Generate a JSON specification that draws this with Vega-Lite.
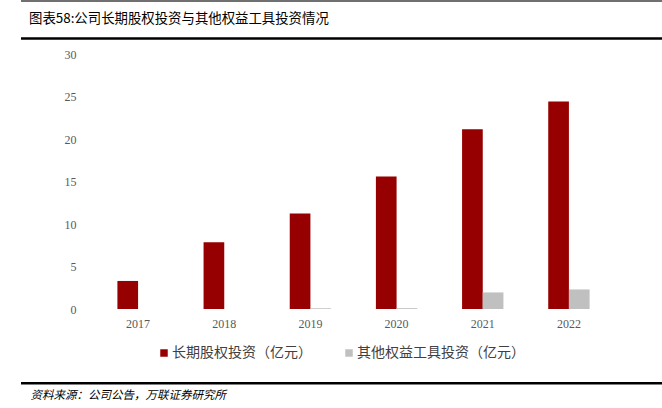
{
  "$schema": "https://vega.github.io/schema/vega-lite/v6.json",
  "width": 517,
  "height": 255,
  "autosize": {"type": "none"},
  "padding": {"left": 95, "top": 54, "right": 50, "bottom": 99},
  "background": "white",
  "config": {"view": {"stroke": null}},
  "title": {
    "text": "图表58:公司长期股权投资与其他权益工具投资情况",
    "anchor": "start",
    "frame": "group",
    "dx": -66,
    "offset": -32,
    "baseline": "middle",
    "font": "Noto Sans CJK SC",
    "fontSize": 13.4,
    "fontWeight": "normal",
    "color": "#000000"
  },
  "datasets": {
    "bars": [
      {"year": "2017", "series": "长期股权投资（亿元）", "value": 3.3},
      {"year": "2018", "series": "长期股权投资（亿元）", "value": 7.85},
      {"year": "2019", "series": "长期股权投资（亿元）", "value": 11.25},
      {"year": "2020", "series": "长期股权投资（亿元）", "value": 15.6},
      {"year": "2021", "series": "长期股权投资（亿元）", "value": 21.15},
      {"year": "2022", "series": "长期股权投资（亿元）", "value": 24.4},
      {"year": "2017", "series": "其他权益工具投资（亿元）", "value": 0},
      {"year": "2018", "series": "其他权益工具投资（亿元）", "value": 0},
      {"year": "2019", "series": "其他权益工具投资（亿元）", "value": 0.1},
      {"year": "2020", "series": "其他权益工具投资（亿元）", "value": 0.1},
      {"year": "2021", "series": "其他权益工具投资（亿元）", "value": 1.95},
      {"year": "2022", "series": "其他权益工具投资（亿元）", "value": 2.3}
    ],
    "lines": [
      {"pos": "top"}
    ]
  },
  "layer": [
    {
      "data": {"name": "bars"},
      "mark": {"type": "bar"},
      "encoding": {
        "x": {
          "field": "year",
          "type": "nominal",
          "scale": {"paddingInner": 0.52, "paddingOuter": 0.26},
          "axis": {
            "title": "资料来源：公司公告，万联证券研究所",
            "titleX": -65,
            "titleY": 86,
            "titleAlign": "left",
            "titleAnchor": null,
            "titleBaseline": "middle",
            "titleFont": "Noto Sans CJK SC",
            "titleFontSize": 11.5,
            "titleFontStyle": "italic",
            "titleFontWeight": "normal",
            "titleColor": "#000000",
            "labelAngle": 0,
            "labelFont": "Liberation Serif",
            "labelFontSize": 12,
            "labelColor": "#595959",
            "labelPadding": 9,
            "ticks": false,
            "domain": false,
            "grid": false
          }
        },
        "xOffset": {
          "field": "series",
          "type": "nominal",
          "scale": {"domain": ["长期股权投资（亿元）", "其他权益工具投资（亿元）"], "paddingInner": 0, "paddingOuter": 0}
        },
        "y": {
          "field": "value",
          "type": "quantitative",
          "scale": {"domain": [0, 30], "nice": false},
          "axis": {
            "title": null,
            "values": [0, 5, 10, 15, 20, 25, 30],
            "labelFont": "Liberation Serif",
            "labelFontSize": 12,
            "labelColor": "#595959",
            "labelPadding": 19,
            "ticks": false,
            "domain": false,
            "grid": false
          }
        },
        "color": {
          "field": "series",
          "type": "nominal",
          "scale": {"domain": ["长期股权投资（亿元）", "其他权益工具投资（亿元）"], "range": ["#960000", "#C0C0C0"]},
          "legend": {
            "title": null,
            "orient": "none",
            "direction": "horizontal",
            "legendX": 62,
            "legendY": 292,
            "symbolType": "square",
            "symbolSize": 56,
            "symbolStrokeWidth": 0,
            "labelFont": "Noto Sans CJK SC",
            "labelFontSize": 14,
            "labelColor": "#404040",
            "labelOffset": 1,
            "labelLimit": 300,
            "columnPadding": 30
          }
        }
      }
    },
    {
      "data": {"name": "lines"},
      "mark": {"type": "rule", "color": "#404040", "strokeWidth": 1.5},
      "encoding": {"x": {"value": -74}, "x2": {"value": 567}, "y": {"value": -53}}
    },
    {
      "data": {"name": "lines"},
      "mark": {"type": "rule", "color": "#000000", "strokeWidth": 2.5},
      "encoding": {"x": {"value": -74}, "x2": {"value": 567}, "y": {"value": -15.5}}
    },
    {
      "data": {"name": "lines"},
      "mark": {"type": "rule", "color": "#000000", "strokeWidth": 2.5},
      "encoding": {"x": {"value": -74}, "x2": {"value": 567}, "y": {"value": 329.3}}
    }
  ]
}
